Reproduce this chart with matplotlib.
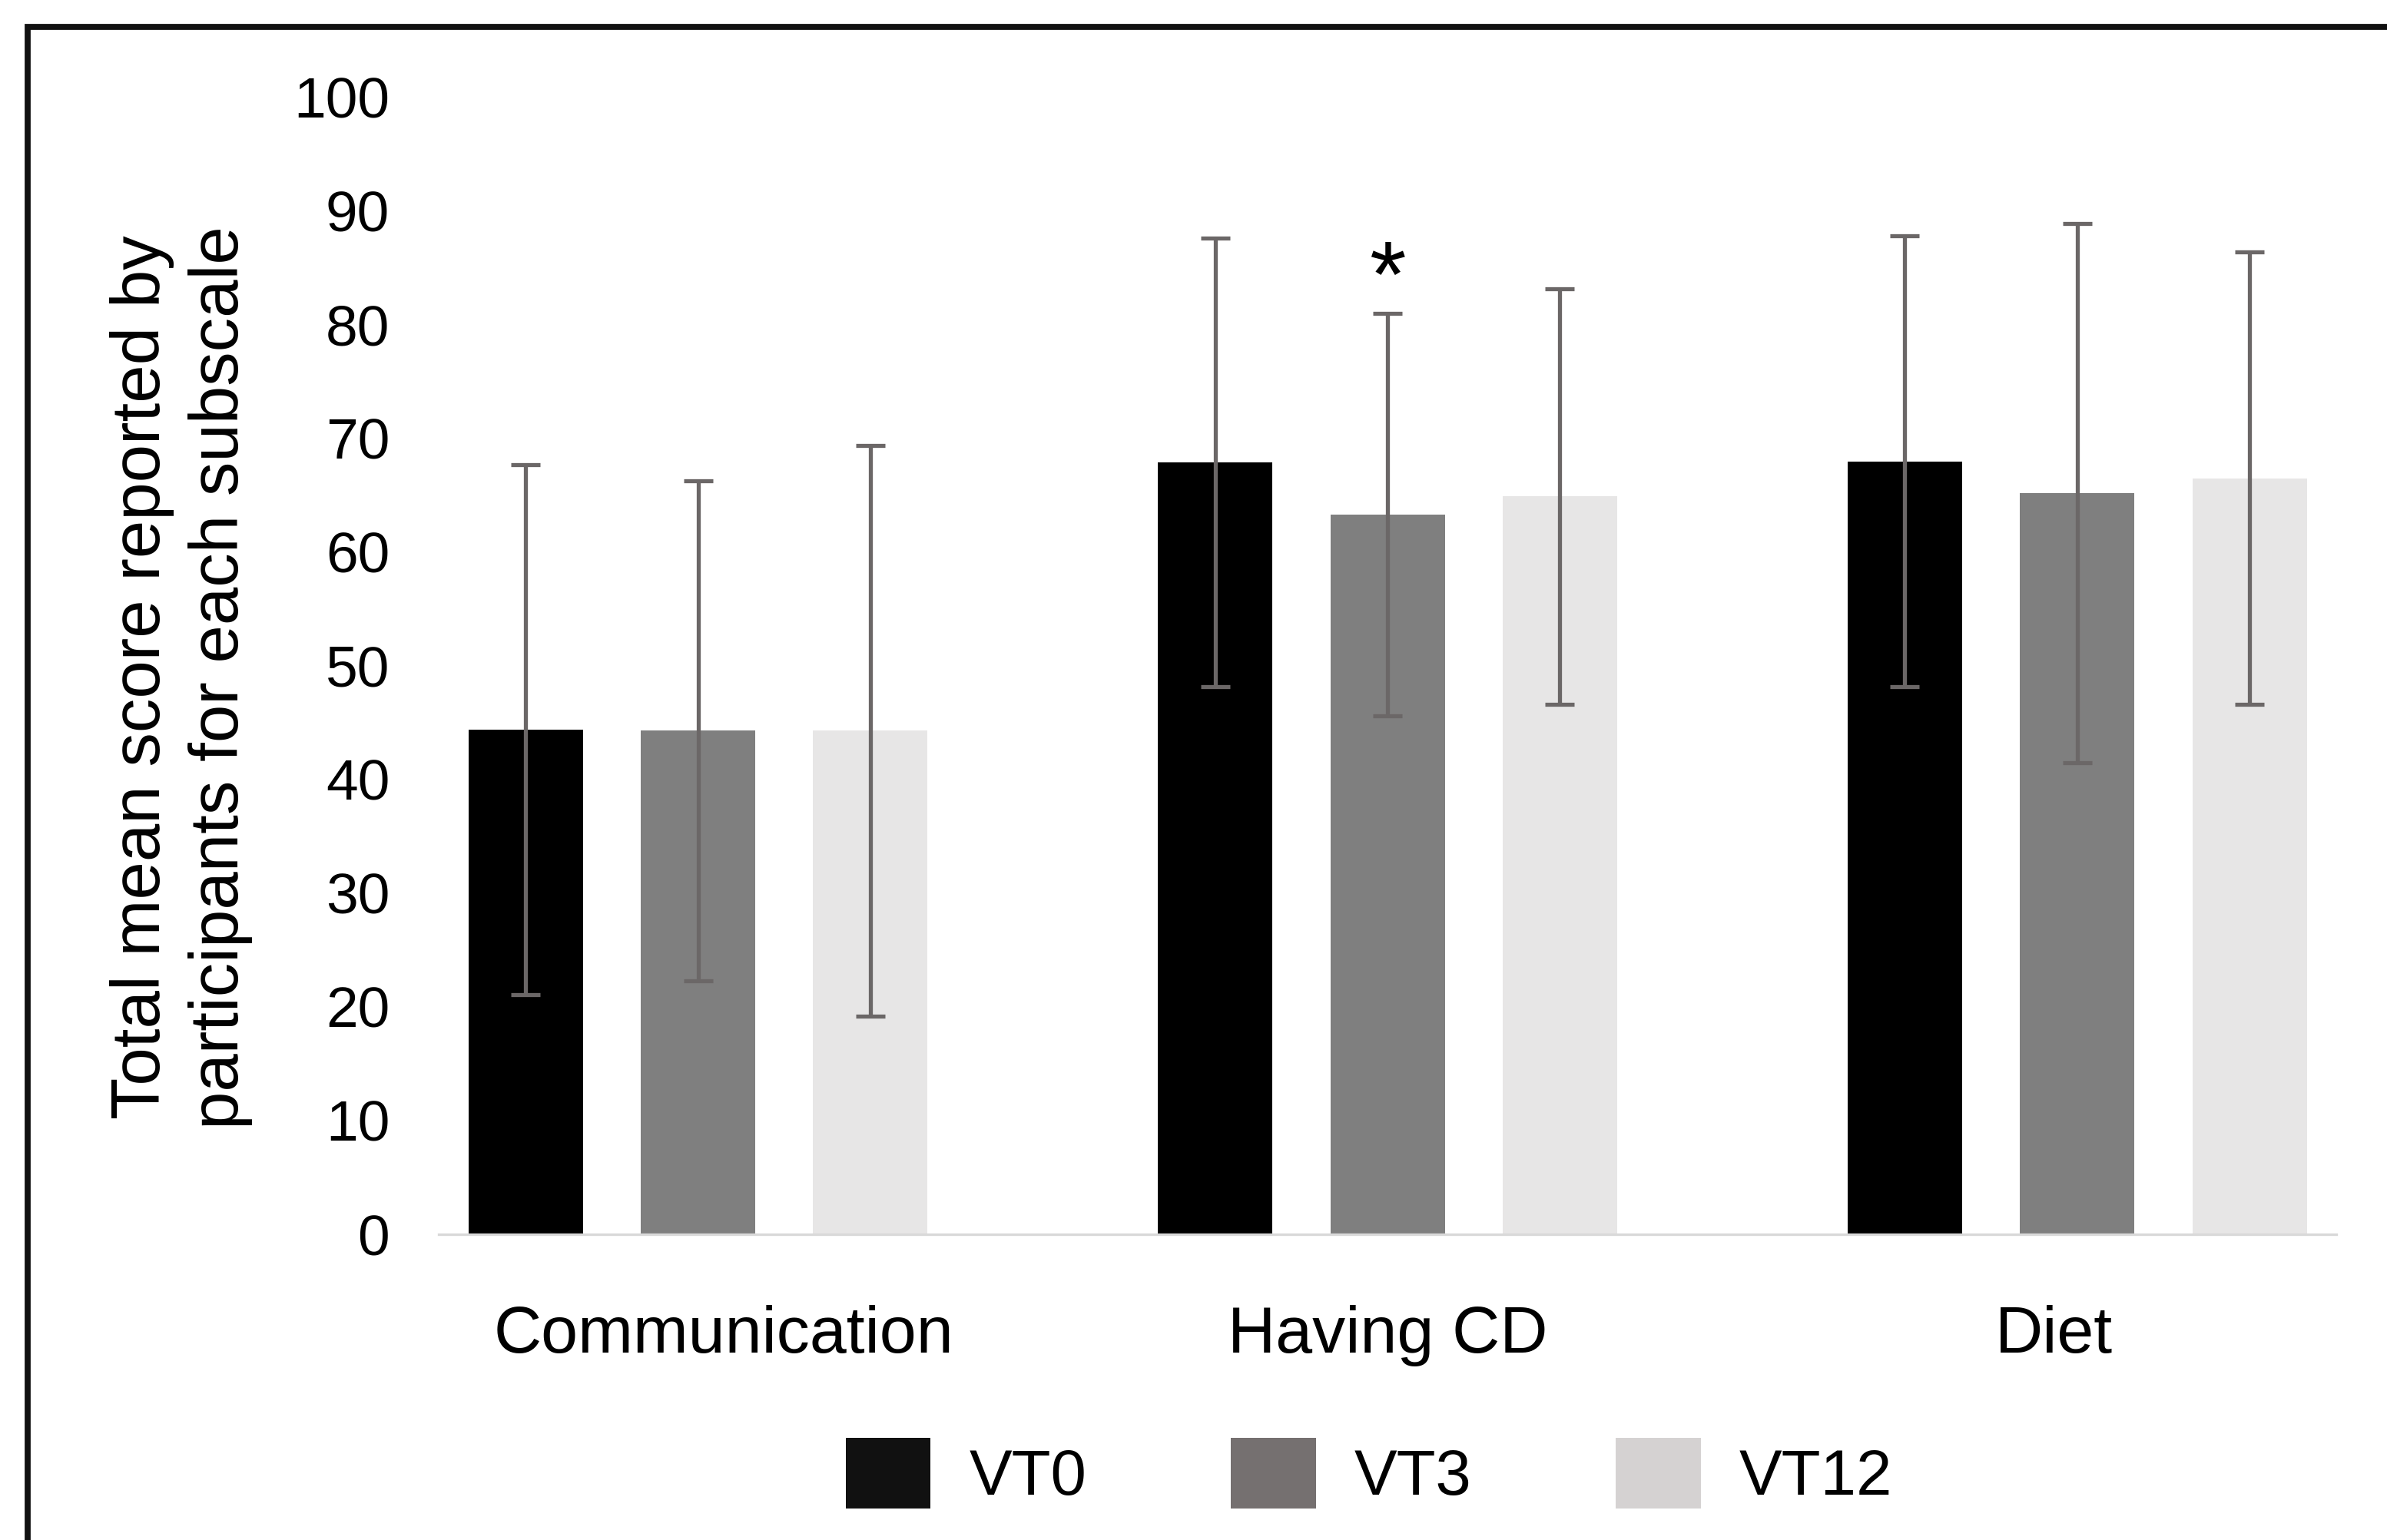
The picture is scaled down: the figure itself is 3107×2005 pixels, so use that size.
import numpy as np
import matplotlib.pyplot as plt
from matplotlib.patches import Rectangle
from matplotlib.transforms import ScaledTranslation

plt.rcParams['font.family'] = ['Liberation Sans', 'DejaVu Sans']

categories = ['Communication', 'Having CD', 'Diet']
series = ['VT0', 'VT3', 'VT12']
vt0_mean = [44.4, 67.9, 68.0]
vt3_mean = [44.3, 63.3, 65.2]
vt12_mean = [44.3, 64.9, 66.5]
vt0_sd = [23.3, 19.7, 19.8]
vt3_sd = [22.0, 17.7, 23.7]
vt12_sd = [25.1, 18.3, 19.9]
colors = ['#000000', '#7f7f7f', '#e7e6e6']
legend_colors = ['#111111', '#757070', '#d5d2d2']
# significance marker: (category, series)
star = ('Having CD', 'VT3')

means = [vt0_mean, vt3_mean, vt12_mean]
sds = [vt0_sd, vt3_sd, vt12_sd]

fig = plt.figure(figsize=(3107 / 200, 2005 / 200), dpi=200)
ax = fig.add_axes([0.1838, 0.1985, 0.795, 0.7382])

x = np.arange(len(categories))
width = 0.166
step = 0.25
for i, s in enumerate(series):
    pos = x + (i - 1) * step
    ax.bar(pos, means[i], width, color=colors[i], label=s, zorder=2)
    ax.errorbar(pos, means[i], yerr=sds[i], fmt='none', ecolor='#6b6767',
                elinewidth=1.9, capsize=7, capthick=1.9, zorder=3)

ci = categories.index(star[0])
si = series.index(star[1])
ax.text(x[ci] + (si - 1) * step, means[si][ci] + sds[si][ci] + 2.8, '*',
        ha='center', va='center', fontsize=44)

ax.set_xlim(-0.376, 2.376)
ax.set_ylim(0, 100)
ax.set_yticks(range(0, 101, 10))
ax.set_xticks(x)
ax.set_xticklabels(categories)
ax.tick_params(axis='y', length=0, pad=23, labelsize=27)
ax.tick_params(axis='x', length=0, pad=33, labelsize=31)
# the original labels sit slightly off the group centres
label_shift = [12, 0, -11]
for lab, dx in zip(ax.get_xticklabels(), label_shift):
    lab.set_transform(lab.get_transform() +
                      ScaledTranslation(dx / 72, 0, fig.dpi_scale_trans))
for side in ['top', 'right', 'left']:
    ax.spines[side].set_visible(False)
ax.spines['bottom'].set_color('#d9d9d9')
ax.spines['bottom'].set_linewidth(1.2)

ax.set_ylabel('Total mean score reported by\nparticipants for each subscale',
              fontsize=32, linespacing=1.28)
ax.yaxis.set_label_coords(-0.098, 0.49)

leg = fig.legend(loc='center', bbox_to_anchor=(0.5735, 0.0434), ncol=3,
                 frameon=False, fontsize=30, handlelength=1.33,
                 handleheight=1.33, handletextpad=0.6, columnspacing=2.25)
for p, c in zip(leg.get_patches(), legend_colors):
    p.set_facecolor(c)

# outer frame (cut off at right and bottom)
fig.add_artist(Rectangle((0.0116, -0.2), 1.2, 0.9825 + 0.2,
                         transform=fig.transFigure, fill=False,
                         edgecolor='#111111', linewidth=2.8))

fig.savefig('out.png', dpi=200, facecolor='white')
